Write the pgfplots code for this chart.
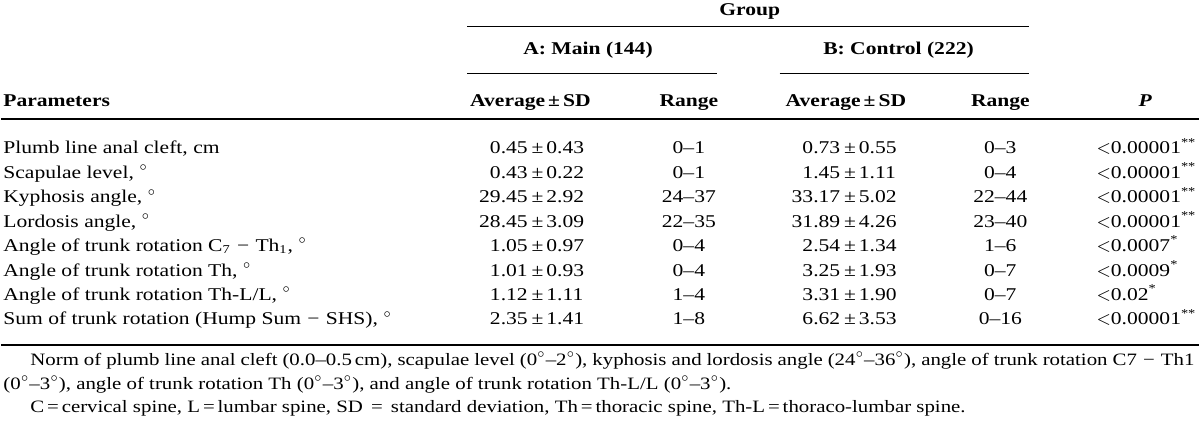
\documentclass[border=0pt]{standalone}
\usepackage{pgfplots}
\pgfplotsset{compat=1.18}
\usepackage{pgfplotstable}
\usepackage{fontspec}
\setmainfont{Liberation Serif}[FakeStretch=1.2]

\pgfplotstableread{
row avgA sdA rngA avgB sdB rngB
0 0.45 0.43 0--1 0.73 0.55 0--3
1 0.43 0.22 0--1 1.45 1.11 0--4
2 29.45 2.92 24--37 33.17 5.02 22--44
3 28.45 3.09 22--35 31.89 4.26 23--40
4 1.05 0.97 0--4 2.54 1.34 1--6
5 1.01 0.93 0--4 3.25 1.93 0--7
6 1.12 1.11 1--4 3.31 1.90 0--7
7 2.35 1.41 1--8 6.62 3.53 0--16
}\datatable

% P values, two stars
\pgfplotstableread{
row p
0 0.00001
1 0.00001
2 0.00001
3 0.00001
7 0.00001
}\ptwo
% P values, one star
\pgfplotstableread{
row p
4 0.0007
5 0.0009
6 0.02
}\pone

\newcommand{\tf}{\fontsize{9}{11}\selectfont}
\newcommand{\nf}{\fontsize{8.7}{11}\selectfont}
\newcommand{\dg}{$^{\circ}$}
\newcommand{\mn}{\hspace{0.35em}−\hspace{0.35em}}

\begin{document}
\begin{tikzpicture}[font=\tf]
\begin{axis}[
  scale only axis, width=600pt, height=213pt,
  xmin=0, xmax=1200, ymin=0, ymax=426, y dir=reverse,
  hide axis, clip=false,
  every node near coord/.append style={inner sep=0pt, font=\tf, text=black},
  point meta=explicit symbolic,
]
\path (axis cs:0,0) rectangle (axis cs:1200,426);

% rules
\draw[line width=0.5pt] (axis cs:467,27) -- (axis cs:1030,27);
\draw[line width=0.5pt] (axis cs:467,74) -- (axis cs:717,74);
\draw[line width=0.5pt] (axis cs:780,74) -- (axis cs:1030,74);
\draw[line width=1pt] (axis cs:0,119.5) -- (axis cs:1200,119.5);
\draw[line width=1pt] (axis cs:0,346) -- (axis cs:1200,346);

% header
\node[anchor=base, font=\tf\bfseries, inner sep=0pt] at (axis cs:750,16) {Group};
\node[anchor=base, font=\tf\bfseries, inner sep=0pt] at (axis cs:588,55) {A:\ Main\ (144)};
\node[anchor=base, font=\tf\bfseries, inner sep=0pt] at (axis cs:899,55) {B:\ Control\ (222)};
\node[anchor=base west, font=\tf\bfseries, inner sep=0pt] at (axis cs:2,107) {Parameters};
\node[anchor=base east, font=\tf\bfseries, inner sep=0pt] at (axis cs:591,107) {Average\,\textpm\,SD};
\node[anchor=base, font=\tf\bfseries, inner sep=0pt] at (axis cs:689,107) {Range};
\node[anchor=base east, font=\tf\bfseries, inner sep=0pt] at (axis cs:907,107) {Average\,\textpm\,SD};
\node[anchor=base, font=\tf\bfseries, inner sep=0pt] at (axis cs:1001,107) {Range};
\node[anchor=base, font=\tf\bfseries\itshape, inner sep=0pt] at (axis cs:1146,107) {P};

% row labels
\node[anchor=base west, inner sep=0pt] at (axis cs:2,154) {Plumb line anal cleft, cm};
\node[anchor=base west, inner sep=0pt] at (axis cs:2,178.5) {Scapulae level, \dg};
\node[anchor=base west, inner sep=0pt] at (axis cs:2,203) {Kyphosis angle, \dg};
\node[anchor=base west, inner sep=0pt] at (axis cs:2,227.5) {Lordosis angle, \dg};
\node[anchor=base west, inner sep=0pt] at (axis cs:2,252) {Angle of trunk rotation C\textsubscript{7}\mn Th\textsubscript{1}, \dg};
\node[anchor=base west, inner sep=0pt] at (axis cs:2,276.5) {Angle of trunk rotation Th, \dg};
\node[anchor=base west, inner sep=0pt] at (axis cs:2,301) {Angle of trunk rotation Th-L/L, \dg};
\node[anchor=base west, inner sep=0pt] at (axis cs:2,325.5) {Sum of trunk rotation (Hump Sum\mn SHS), \dg};

% group A: average, +- SD, range
\addplot[draw=none, mark=none, nodes near coords,
  every node near coord/.append style={anchor=base east}]
  table[x expr=528, y expr=154+24.5*\thisrow{row}, meta=avgA]{\datatable};
\addplot[draw=none, mark=none, nodes near coords={\,\textpm\,\pgfplotspointmeta},
  every node near coord/.append style={anchor=base west}]
  table[x expr=528, y expr=154+24.5*\thisrow{row}, meta=sdA]{\datatable};
\addplot[draw=none, mark=none, nodes near coords,
  every node near coord/.append style={anchor=base}]
  table[x expr=689, y expr=154+24.5*\thisrow{row}, meta=rngA]{\datatable};
% group B
\addplot[draw=none, mark=none, nodes near coords,
  every node near coord/.append style={anchor=base east}]
  table[x expr=841, y expr=154+24.5*\thisrow{row}, meta=avgB]{\datatable};
\addplot[draw=none, mark=none, nodes near coords={\,\textpm\,\pgfplotspointmeta},
  every node near coord/.append style={anchor=base west}]
  table[x expr=841, y expr=154+24.5*\thisrow{row}, meta=sdB]{\datatable};
\addplot[draw=none, mark=none, nodes near coords,
  every node near coord/.append style={anchor=base}]
  table[x expr=1001, y expr=154+24.5*\thisrow{row}, meta=rngB]{\datatable};
% P
\addplot[draw=none, mark=none, nodes near coords={$<$\pgfplotspointmeta\textsuperscript{**}},
  every node near coord/.append style={anchor=base west}]
  table[x expr=1097, y expr=154+24.5*\thisrow{row}, meta=p]{\ptwo};
\addplot[draw=none, mark=none, nodes near coords={$<$\pgfplotspointmeta\textsuperscript{*}},
  every node near coord/.append style={anchor=base west}]
  table[x expr=1097, y expr=154+24.5*\thisrow{row}, meta=p]{\pone};

% notes
\node[anchor=base west, inner sep=0pt, font=\nf] at (axis cs:29,366) {\makebox[583pt][s]{Norm of plumb line anal cleft (0.0--0.5\,cm), scapulae level (0\dg--2\dg), kyphosis and lordosis angle (24\dg--36\dg), angle of trunk rotation C7\mn Th1}};
\node[anchor=base west, inner sep=0pt, font=\nf] at (axis cs:2,390) {(0\dg--3\dg), angle of trunk rotation Th (0\dg--3\dg), and angle of trunk rotation Th-L/L (0\dg--3\dg).};
\node[anchor=base west, inner sep=0pt, font=\nf] at (axis cs:29,413) {C\,=\,cervical spine, L\,=\,lumbar spine, SD \,=\, standard deviation, Th\,=\,thoracic spine, Th-L\,=\,thoraco-lumbar spine.};
\end{axis}
\end{tikzpicture}
\end{document}
